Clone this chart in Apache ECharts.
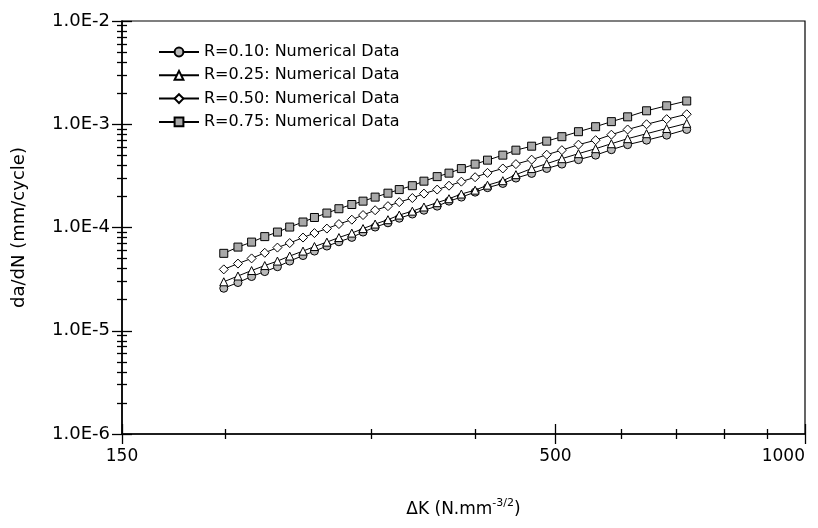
<!DOCTYPE html>
<html>
<head>
<meta charset="utf-8">
<script src="https://cdn.jsdelivr.net/npm/echarts@6/dist/echarts.min.js"></script>
<style>
  html, body { margin: 0; padding: 0; background: #fff; }
  #chart { width: 818px; height: 528px; }
</style>
</head>
<body>
<div id="chart"></div>
<script>
// ---- data ----
const deltaK = [199, 207, 215, 223, 231, 239, 248, 256, 265, 274, 284, 293, 303, 314, 324, 336, 347, 360, 372, 385, 400, 414, 432, 448, 468, 488, 509, 533, 559, 584, 611, 644, 681, 720];
const r010 = [2.58e-5, 2.93e-5, 3.35e-5, 3.74e-5, 4.17e-5, 4.73e-5, 5.35e-5, 5.91e-5, 6.61e-5, 7.27e-5, 8.02e-5, 9.03e-5, 1.01e-4, 1.11e-4, 1.23e-4, 1.35e-4, 1.47e-4, 1.61e-4, 1.80e-4, 1.97e-4, 2.20e-4, 2.43e-4, 2.67e-4, 3.01e-4, 3.34e-4, 3.73e-4, 4.11e-4, 4.54e-4, 5.02e-4, 5.67e-4, 6.34e-4, 7.01e-4, 7.84e-4, 8.90e-4];
const r025 = [2.98e-5, 3.39e-5, 3.83e-5, 4.28e-5, 4.73e-5, 5.29e-5, 5.91e-5, 6.54e-5, 7.22e-5, 7.99e-5, 8.83e-5, 9.76e-5, 1.08e-4, 1.19e-4, 1.32e-4, 1.44e-4, 1.58e-4, 1.74e-4, 1.90e-4, 2.11e-4, 2.30e-4, 2.57e-4, 2.84e-4, 3.25e-4, 3.72e-4, 4.15e-4, 4.64e-4, 5.19e-4, 5.80e-4, 6.48e-4, 7.25e-4, 8.10e-4, 9.10e-4, 1.02e-3];
const r050 = [3.93e-5, 4.47e-5, 5.02e-5, 5.69e-5, 6.39e-5, 7.07e-5, 7.99e-5, 8.83e-5, 9.76e-5, 1.08e-4, 1.19e-4, 1.32e-4, 1.47e-4, 1.61e-4, 1.76e-4, 1.93e-4, 2.13e-4, 2.33e-4, 2.54e-4, 2.78e-4, 3.07e-4, 3.38e-4, 3.73e-4, 4.11e-4, 4.54e-4, 5.07e-4, 5.61e-4, 6.34e-4, 7.01e-4, 7.92e-4, 8.90e-4, 1.00e-3, 1.12e-3, 1.25e-3];
const r075 = [5.62e-5, 6.46e-5, 7.22e-5, 8.16e-5, 9.03e-5, 1.01e-4, 1.13e-4, 1.25e-4, 1.38e-4, 1.52e-4, 1.67e-4, 1.80e-4, 1.97e-4, 2.15e-4, 2.33e-4, 2.54e-4, 2.81e-4, 3.11e-4, 3.36e-4, 3.72e-4, 4.11e-4, 4.49e-4, 5.02e-4, 5.61e-4, 6.13e-4, 6.86e-4, 7.58e-4, 8.47e-4, 9.47e-4, 1.06e-3, 1.18e-3, 1.35e-3, 1.51e-3, 1.68e-3];
const seriesNames = ['R=0.10: Numerical Data', 'R=0.25: Numerical Data', 'R=0.50: Numerical Data', 'R=0.75: Numerical Data'];

// ---- axis ticks / labels ----
const xMin = 150, xMax = 1000;
const xMajorTicks = [150, 500, 1000];
const xMinorTicks = [200, 300, 400, 600, 700, 800, 900];
const yExponents = [-6, -5, -4, -3, -2];
const yMinorMultipliers = [2, 3, 4, 5, 6, 7, 8, 9];

const FONT = 'DejaVu Sans';
const L = Math.log10;
const xMajLog = xMajorTicks.map(L);
const xMinLog = xMinorTicks.map(L);
const yMinLog = [];
yExponents.slice(0, -1).forEach(e => yMinorMultipliers.forEach(m => yMinLog.push(e + L(m))));

function pairs(ys) { return deltaK.map((x, i) => [x, ys[i]]); }

const symbols = ['circle', 'triangle', 'diamond', 'rect'];
const fills = ['#b9b9b9', '#ffffff', '#ffffff', '#a9a9a9'];
const sizes = [8, 8, 9, 8];
const datasets = [r010, r025, r050, r075];

const series = datasets.map((d, i) => ({
  name: seriesNames[i],
  type: 'line',
  xAxisIndex: 0, yAxisIndex: 0,
  data: pairs(d),
  symbol: symbols[i],
  symbolSize: sizes[i],
  showAllSymbol: true,
  lineStyle: { color: '#000', width: 1 },
  itemStyle: { color: fills[i], borderColor: '#000', borderWidth: 1 },
  emphasis: { disabled: true },
  z: 3 + i
}));

const hidden = { show: false };
const tickStyle = { color: '#000', width: 1.3 };

const option = {
  animation: false,
  backgroundColor: '#fff',
  grid: { left: 122, top: 21, right: 13, bottom: 94, show: true, borderColor: '#000', borderWidth: 1.2,
    backgroundColor: 'transparent', containLabel: false, outerBoundsMode: 'none' },
  legend: {
    data: seriesNames,
    orient: 'vertical',
    left: 153, top: 37,
    itemWidth: 40, itemHeight: 11, itemGap: 3.3,
    textStyle: { fontFamily: FONT, fontSize: 16, color: '#000', lineHeight: 20 },
    selectedMode: false
  },
  xAxis: [
    { type: 'log', logBase: 10, min: xMin, max: xMax, position: 'bottom',
      axisLine: { show: true, lineStyle: { color: '#000', width: 1.6 } },
      axisTick: hidden, axisLabel: hidden, splitLine: hidden, minorTick: hidden, minorSplitLine: hidden },
    { type: 'value', min: L(xMin), max: L(xMax), position: 'bottom',
      axisLine: hidden, axisTick: hidden, splitLine: hidden,
      axisLabel: { show: true, customValues: xMajLog, margin: 14, fontFamily: FONT, fontSize: 17, color: '#000',
        alignMaxLabel: 'right',
        formatter: v => String(Math.round(Math.pow(10, v))) },
      name: '{a|\u0394K (N.mm}{s|-3/2}{a|)}', nameLocation: 'middle', nameGap: 64,
      nameTextStyle: { rich: {
        a: { fontFamily: FONT, fontSize: 17, color: '#000', lineHeight: 24, verticalAlign: 'middle' },
        s: { fontFamily: FONT, fontSize: 11, color: '#000', lineHeight: 12, verticalAlign: 'top' } } } },
    { type: 'value', min: L(xMin), max: L(xMax), position: 'bottom', offset: -10,
      axisLine: hidden, axisLabel: hidden, splitLine: hidden,
      axisTick: { show: true, customValues: xMajLog, length: 20, inside: false, lineStyle: tickStyle } },
    { type: 'value', min: L(xMin), max: L(xMax), position: 'bottom', offset: -5,
      axisLine: hidden, axisLabel: hidden, splitLine: hidden,
      axisTick: { show: true, customValues: xMinLog, length: 10, inside: false, lineStyle: tickStyle } }
  ],
  yAxis: [
    { type: 'log', logBase: 10, min: 1e-6, max: 1e-2, position: 'left',
      axisLine: { show: true, lineStyle: { color: '#000', width: 1.6 } },
      axisTick: hidden, axisLabel: hidden, splitLine: hidden, minorTick: hidden, minorSplitLine: hidden },
    { type: 'value', min: -6, max: -2, position: 'left',
      axisLine: hidden, axisTick: hidden, splitLine: hidden,
      axisLabel: { show: true, customValues: yExponents, margin: 12, fontFamily: FONT, fontSize: 18, color: '#000',
        formatter: v => '1.0E' + Math.round(v) },
      name: 'da/dN (mm/cycle)', nameLocation: 'middle', nameGap: 94, nameRotate: 90,
      nameTextStyle: { fontFamily: FONT, fontSize: 18, color: '#000' } },
    { type: 'value', min: -6, max: -2, position: 'left', offset: -10,
      axisLine: hidden, axisLabel: hidden, splitLine: hidden,
      axisTick: { show: true, customValues: yExponents, length: 20, inside: false, lineStyle: tickStyle } },
    { type: 'value', min: -6, max: -2, position: 'left', offset: -5,
      axisLine: hidden, axisLabel: hidden, splitLine: hidden,
      axisTick: { show: true, customValues: yMinLog, length: 10, inside: false, lineStyle: tickStyle } }
  ],
  series: series
};

const chart = echarts.init(document.getElementById('chart'), null, { renderer: 'canvas' });
chart.setOption(option);
</script>
</body>
</html>
